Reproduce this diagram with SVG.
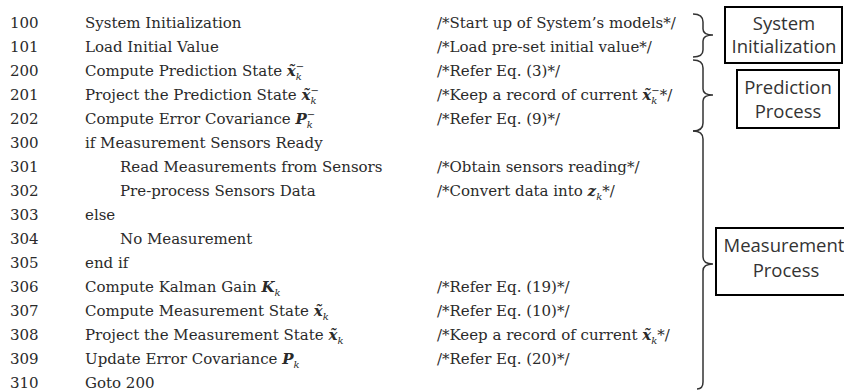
<svg xmlns="http://www.w3.org/2000/svg" width="844" height="392" viewBox="0 0 844 392">
<style>
text{font-family:"DejaVu Serif","Liberation Serif",serif;font-size:15px;fill:#2a2a2a}
.m{font-weight:bold;font-style:italic}
.s{font-size:10px;font-style:italic}
.lbl{font-family:"Open Sans","Noto Sans",sans-serif;font-size:18.5px;fill:#333;text-anchor:middle}
.brace{fill:none;stroke:#333;stroke-width:1.5}
.box{fill:#fff;stroke:#000;stroke-width:2}
</style>
<rect width="844" height="392" fill="#fff"/>
<g id="lines">
<text x="10" y="28">100</text><text x="85" y="28">System Initialization</text><text x="437" y="28">/*Start up of System’s models*/</text>
<text x="10" y="52">101</text><text x="85" y="52">Load Initial Value</text><text x="437" y="52">/*Load pre-set initial value*/</text>
<text x="10" y="76">200</text><text x="85" y="76">Compute Prediction State <tspan class="m">x̃</tspan><tspan class="s" dy="4">k</tspan><tspan class="s" dx="-6" dy="-10">−</tspan></text><text x="437" y="76">/*Refer Eq. (3)*/</text>
<text x="10" y="100">201</text><text x="85" y="100">Project the Prediction State <tspan class="m">x̃</tspan><tspan class="s" dy="4">k</tspan><tspan class="s" dx="-6" dy="-10">−</tspan></text><text x="437" y="100">/*Keep a record of current <tspan class="m">x̃</tspan><tspan class="s" dy="4">k</tspan><tspan class="s" dx="-6" dy="-10">−</tspan><tspan dy="6">*/</tspan></text>
<text x="10" y="124">202</text><text x="85" y="124">Compute Error Covariance <tspan class="m">P</tspan><tspan class="s" dy="4">k</tspan><tspan class="s" dx="-6" dy="-10">−</tspan></text><text x="437" y="124">/*Refer Eq. (9)*/</text>
<text x="10" y="148">300</text><text x="85" y="148">if Measurement Sensors Ready</text>
<text x="10" y="172">301</text><text x="120" y="172">Read Measurements from Sensors</text><text x="437" y="172">/*Obtain sensors reading*/</text>
<text x="10" y="196">302</text><text x="120" y="196">Pre-process Sensors Data</text><text x="437" y="196">/*Convert data into <tspan class="m">z</tspan><tspan class="s" dy="4">k</tspan><tspan dy="-4">*/</tspan></text>
<text x="10" y="220">303</text><text x="85" y="220">else</text>
<text x="10" y="244">304</text><text x="120" y="244">No Measurement</text>
<text x="10" y="268">305</text><text x="85" y="268">end if</text>
<text x="10" y="292">306</text><text x="85" y="292">Compute Kalman Gain <tspan class="m">K</tspan><tspan class="s" dy="4">k</tspan></text><text x="437" y="292">/*Refer Eq. (19)*/</text>
<text x="10" y="316">307</text><text x="85" y="316">Compute Measurement State <tspan class="m">x̃</tspan><tspan class="s" dy="4">k</tspan></text><text x="437" y="316">/*Refer Eq. (10)*/</text>
<text x="10" y="340">308</text><text x="85" y="340">Project the Measurement State <tspan class="m">x̃</tspan><tspan class="s" dy="4">k</tspan></text><text x="437" y="340">/*Keep a record of current <tspan class="m">x̃</tspan><tspan class="s" dy="4">k</tspan><tspan dy="-4">*/</tspan></text>
<text x="10" y="364">309</text><text x="85" y="364">Update Error Covariance <tspan class="m">P</tspan><tspan class="s" dy="4">k</tspan></text><text x="437" y="364">/*Refer Eq. (20)*/</text>
<text x="10" y="388">310</text><text x="85" y="388">Goto 200</text>
</g>
<g id="connectors">
<path class="brace" d="M693,14 Q703,14 703,22 L703,29 Q703,35 713,35 Q703,35 703,41 L703,50 Q703,57 693,57"/>
<path class="brace" d="M693,60 Q703,60 703,68 L703,89 Q703,95 713,95 Q703,95 703,101 L703,123 Q703,131 693,131"/>
<path class="brace" d="M693,131 Q703,131 703,139 L703,257 Q703,264 713,264 Q703,264 703,271 L703,382 Q703,389 697,389"/>
</g>
<g id="system-init">
<rect class="box" x="725" y="7" width="117" height="56"/>
<text class="lbl" x="784" y="30">System</text>
<text class="lbl" x="784" y="53">Initialization</text>
</g>
<g id="prediction">
<rect class="box" x="737" y="70" width="102" height="58"/>
<text class="lbl" x="788" y="94">Prediction</text>
<text class="lbl" x="788" y="118">Process</text>
</g>
<g id="measurement">
<rect class="box" x="716" y="228" width="134" height="67"/>
<text class="lbl" x="784" y="252">Measurement</text>
<text class="lbl" x="786" y="277">Process</text>
</g>
</svg>
